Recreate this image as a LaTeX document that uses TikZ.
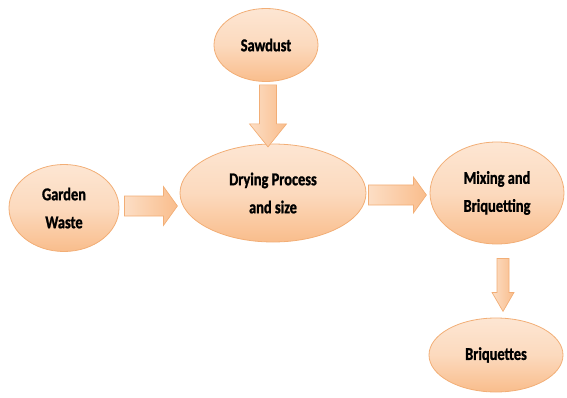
\documentclass[tikz,border=0pt]{standalone}
\usepackage{fontspec}
\setmainfont{Carlito}[FakeStretch=0.8, BoldFeatures={FakeBold=1.2}]
\usetikzlibrary{shapes.geometric,calc}
\definecolor{peachlight}{HTML}{FDE6D3}
\definecolor{peachdark}{HTML}{F9BD8C}
\definecolor{peachedge}{HTML}{F2AE76}
\tikzset{
  blob/.style={ellipse, draw=peachedge, line width=0.8pt, inner sep=0pt,
    top color=peachlight, bottom color=peachdark, middle color=peachlight!70!peachdark,
    align=center, font=\bfseries\fontsize{18}{28}\selectfont, text=black},
  blockarrow/.style={draw=peachedge, line width=0.7pt, line join=miter,
    left color=peachlight!80!peachdark, right color=peachdark}
}
% #1 start, #2 rotation, #3 length, #4 head length, #5 shaft half width, #6 head half width
\newcommand{\barrow}[6]{%
  \begin{scope}[shift={(#1)}, rotate=#2]
    \path[blockarrow] (0,-#5) -- (#3-#4,-#5) -- (#3-#4,-#6) -- (#3,0)
      -- (#3-#4,#6) -- (#3-#4,#5) -- (0,#5) -- cycle;
  \end{scope}}
\begin{document}
\begin{tikzpicture}[x=1pt,y=-1pt]
\useasboundingbox (0,0) rectangle (567,398);
\node[blob, minimum width=104pt, minimum height=73pt] (sawdust) at (266,45) {Sawdust};
\node[blob, minimum width=186pt, minimum height=98pt] (drying) at (273,193) {Drying Process\\and size};
\node[blob, minimum width=110pt, minimum height=87pt] (garden) at (64,208) {Garden\\Waste};
\node[blob, minimum width=134pt, minimum height=102pt] (mixing) at (497,193) {Mixing and\\Briquetting};
\node[blob, minimum width=134pt, minimum height=74pt] (briq) at (496,355) {Briquettes};
% connectors: start points are named coordinates, tips meet the target nodes
\coordinate (s1) at ($(sawdust.south)+(2,3)$);
\coordinate (s2) at ($(garden.east)+(5,-2)$);
\coordinate (s3) at ($(drying.east)+(2,2)$);
\coordinate (s4) at ($(mixing.south)+(6,14)$);
\barrow{s1}{-90}{62}{23}{8.5}{18.5}
\barrow{s2}{0}{53}{14}{10}{19.5}
\barrow{s3}{0}{58}{13}{10}{18}
\barrow{s4}{-90}{53}{19}{6}{11}
\end{tikzpicture}
\end{document}
